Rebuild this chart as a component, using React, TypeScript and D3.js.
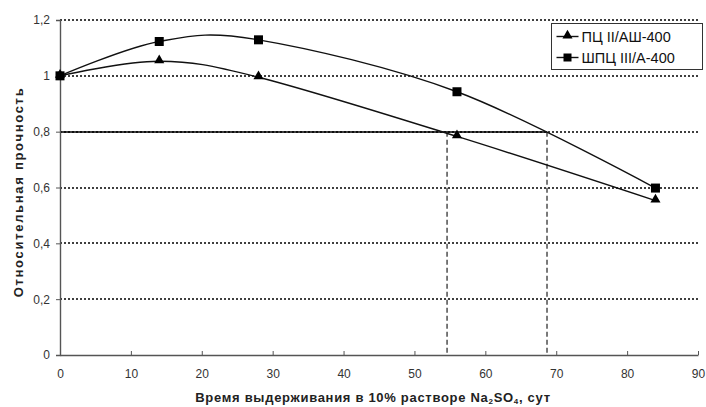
import React, { useEffect, useRef } from 'react';
import * as d3 from 'd3';

const days = [0, 14, 28, 56, 84];
const pcValues = [1.0, 1.052, 0.995, 0.783, 0.553];
const shpcValues = [1.0, 1.123, 1.129, 0.943, 0.598];
const seriesNames = ['ПЦ II/АШ-400', 'ШПЦ III/А-400'];
const xTicks = [0, 10, 20, 30, 40, 50, 60, 70, 80, 90];
const yTicks = [0, 0.2, 0.4, 0.6, 0.8, 1.0, 1.2];
const threshold = 0.8;
const crossDays = [54.6, 68.7];

const App = () => {
  const ref = useRef<SVGSVGElement>(null);

  useEffect(() => {
    const svg = d3.select(ref.current);
    svg.selectAll('*').remove();

    const font = 'Liberation Sans, Arial, sans-serif';
    const x = d3.scaleLinear().domain([0, 90]).range([60, 698]);
    const y = d3.scaleLinear().domain([0, 1.2]).range([355, 20]);

    // dotted grid
    svg.append('g')
      .selectAll('line')
      .data(yTicks.filter(d => d > 0))
      .enter().append('line')
      .attr('x1', x(0)).attr('x2', x(90))
      .attr('y1', d => Math.round(y(d))).attr('y2', d => Math.round(y(d)))
      .attr('stroke', '#000')
      .attr('stroke-width', 1.5)
      .attr('stroke-dasharray', '2,2');

    // threshold line and drop lines
    svg.append('line')
      .attr('x1', x(0)).attr('x2', x(crossDays[1]))
      .attr('y1', Math.round(y(threshold))).attr('y2', Math.round(y(threshold)))
      .attr('stroke', '#000').attr('stroke-width', 1.6);

    svg.append('g')
      .selectAll('line')
      .data(crossDays)
      .enter().append('line')
      .attr('x1', d => x(d)).attr('x2', d => x(d))
      .attr('y1', y(threshold)).attr('y2', y(0))
      .attr('stroke', '#333')
      .attr('stroke-width', 1.3)
      .attr('stroke-dasharray', '5,3');

    // axes
    const yAxis = svg.append('g')
      .attr('transform', `translate(${x(0)},0)`)
      .call(d3.axisLeft(y).tickValues(yTicks).tickSize(4).tickPadding(6)
        .tickFormat(d => d3.format('~g')(d as number).replace('.', ',')));
    yAxis.select('.domain').attr('stroke', '#555').attr('stroke-width', 1.4);
    yAxis.selectAll('.tick line').attr('stroke', '#555');
    yAxis.selectAll('text').attr('font-family', font).attr('font-size', 12).attr('fill', '#333');

    const xAxis = svg.append('g')
      .attr('transform', `translate(0,${y(0)})`)
      .call(d3.axisBottom(x).tickValues(xTicks).tickSizeInner(-4).tickSizeOuter(0).tickPadding(14));
    xAxis.select('.domain').attr('stroke', '#555').attr('stroke-width', 1.4);
    xAxis.selectAll('.tick line').attr('stroke', '#555');
    xAxis.selectAll('text').attr('font-family', font).attr('font-size', 12).attr('fill', '#333');

    // series
    const line = d3.line<[number, number]>()
      .x(d => x(d[0]))
      .y(d => y(d[1]))
      .curve(d3.curveCardinal.tension(0));

    const series = [pcValues, shpcValues];
    series.forEach(vals => {
      svg.append('path')
        .datum(days.map((d, i) => [d, vals[i]] as [number, number]))
        .attr('d', line)
        .attr('fill', 'none')
        .attr('stroke', '#111')
        .attr('stroke-width', 1.4);
    });

    const tri = d3.symbol().type(d3.symbolTriangle).size(44);
    svg.append('g')
      .selectAll('path')
      .data(days.map((d, i) => [d, pcValues[i]]))
      .enter().append('path')
      .attr('d', tri)
      .attr('transform', d => `translate(${x(d[0])},${y(d[1]) - 1})`)
      .attr('fill', '#000');

    svg.append('g')
      .selectAll('rect')
      .data(days.map((d, i) => [d, shpcValues[i]]))
      .enter().append('rect')
      .attr('x', d => x(d[0]) - 4.5)
      .attr('y', d => y(d[1]) - 4.5)
      .attr('width', 9).attr('height', 9)
      .attr('fill', '#000');

    // legend
    const legend = svg.append('g').attr('transform', 'translate(551.5,23.5)');
    legend.append('rect')
      .attr('width', 151).attr('height', 46)
      .attr('fill', '#fff').attr('stroke', '#333').attr('stroke-width', 1);
    seriesNames.forEach((name, i) => {
      const cy = 13 + i * 21;
      legend.append('line')
        .attr('x1', 5).attr('x2', 27).attr('y1', cy).attr('y2', cy)
        .attr('stroke', '#111').attr('stroke-width', 1.4);
      if (i === 0) {
        legend.append('path').attr('d', tri).attr('transform', `translate(16,${cy - 1})`).attr('fill', '#000');
      } else {
        legend.append('rect').attr('x', 12).attr('y', cy - 4).attr('width', 8).attr('height', 8).attr('fill', '#000');
      }
      legend.append('text')
        .attr('x', 30).attr('y', cy).attr('dy', '0.35em')
        .attr('font-family', font).attr('font-size', 14.5).attr('fill', '#111')
        .text(name);
    });

    // axis titles
    const xt = svg.append('text')
      .attr('x', 373).attr('y', 402)
      .attr('text-anchor', 'middle')
      .attr('font-family', font).attr('font-size', 13).attr('font-weight', 'bold')
      .attr('letter-spacing', 0.7).attr('fill', '#222');
    xt.append('tspan').text('Время выдерживания в 10% растворе Na');
    xt.append('tspan').attr('font-size', 8).attr('dy', 2).text('2');
    xt.append('tspan').attr('dy', -2).text('SO');
    xt.append('tspan').attr('font-size', 8).attr('dy', 2).text('4');
    xt.append('tspan').attr('dy', -2).text(', сут');

    svg.append('text')
      .attr('transform', 'translate(23,192) rotate(-90)')
      .attr('text-anchor', 'middle')
      .attr('font-family', font).attr('font-size', 13).attr('font-weight', 'bold')
      .attr('letter-spacing', 1.7).attr('fill', '#222')
      .text('Относительная прочность');
  }, []);

  return <svg ref={ref} width={706} height={407} style={{ display: 'block', position: 'absolute', left: 0, top: 0 }} />;
};

export default App;
